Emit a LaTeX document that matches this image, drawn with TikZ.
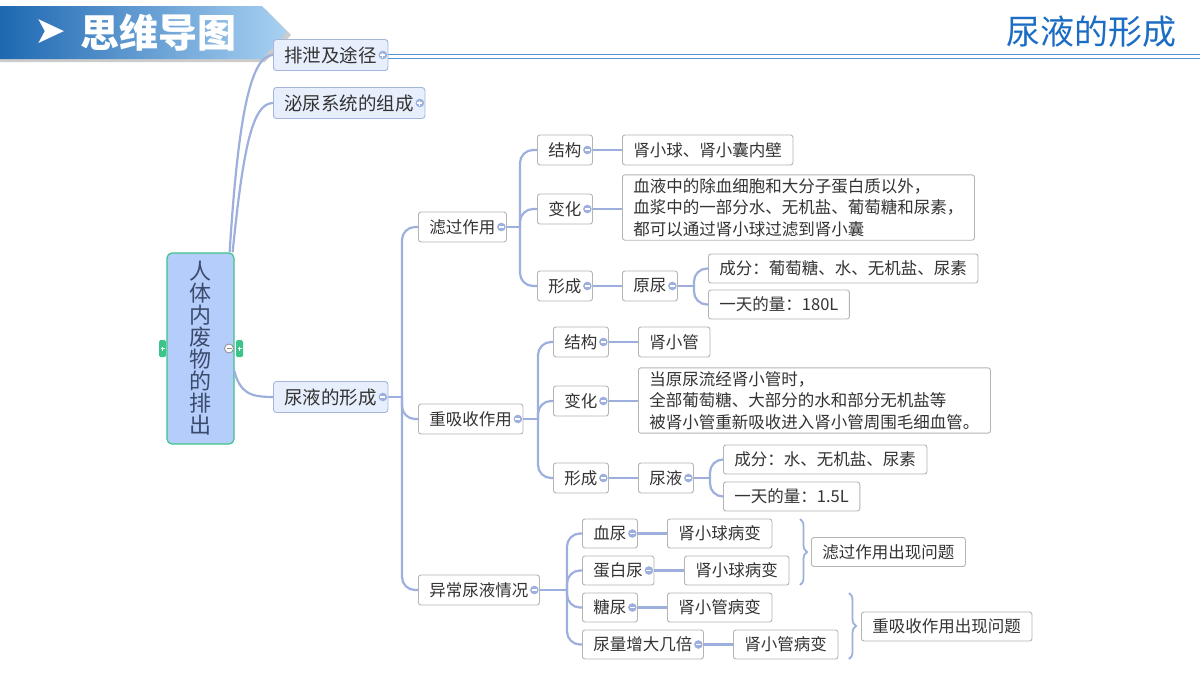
\documentclass[tikz,border=0pt]{standalone}
\usepackage{fontspec}
\setmainfont{Noto Sans CJK SC}
\newfontfamily\symfont{DejaVu Sans}
\usetikzlibrary{decorations.pathreplacing}
\definecolor{linkblue}{HTML}{9DB0DD}
\definecolor{topfill}{HTML}{E7EFFC}
\definecolor{topline}{HTML}{A3B5DA}
\definecolor{boxline}{HTML}{B4B4B4}
\definecolor{inkgray}{HTML}{333333}
\definecolor{rootfill}{HTML}{B5CDFB}
\definecolor{rootline}{HTML}{3CC48A}
\definecolor{roottext}{HTML}{3B4B6B}
\definecolor{bannerdark}{HTML}{1E68B2}
\definecolor{bannerlight}{HTML}{A9D1F2}
\definecolor{titleblue}{HTML}{1A6CC4}
\newcommand{\foldminus}[1]{%
  \fill[linkblue] ([xshift=-5.5pt]#1.east) circle (4.3pt);
  \draw[white,line width=1.1pt] ([xshift=-8pt]#1.east) -- ([xshift=-3pt]#1.east);}
\newcommand{\foldplus}[1]{%
  \foldminus{#1}
  \draw[white,line width=1.1pt] ([xshift=-5.5pt,yshift=-2.5pt]#1.east) -- ([xshift=-5.5pt,yshift=2.5pt]#1.east);}

\begin{document}
\begin{tikzpicture}[x=1pt,y=-1pt,
  topic/.style={draw=topline,fill=topfill,line width=0.9pt,rounded corners=3pt,minimum height=31pt,inner xsep=11pt,inner ysep=3pt,text=inkgray,font=\fontsize{18.5}{20}\selectfont,anchor=west},
  sub/.style={draw=boxline,fill=white,line width=0.9pt,rounded corners=2.5pt,minimum height=30pt,inner xsep=11pt,inner ysep=3.5pt,text=inkgray,font=\fontsize{16.5}{21.5}\selectfont,anchor=west},
  link/.style={draw=linkblue,line width=2.2pt},
  tree/.style={link,rounded corners=13pt},
  bracket/.style={draw=linkblue,line width=1.8pt,decorate,decoration={brace,amplitude=7pt}}]

  \useasboundingbox (0,0) rectangle (1200,675);
  \fill[white] (0,0) rectangle (1200,675);

  % header
  \fill[black!20] (0,9) -- (265,9) -- (291,35) -- (265,62) -- (0,62) -- cycle;
  \shade[left color=bannerdark,right color=bannerlight] (0,6) -- (262,6) -- (287,32) -- (262,59) -- (0,59) -- cycle;
  \node[text=white,font=\symfont\fontsize{38}{38}\selectfont] (mark) at (50,32) {➤};
  \node[text=white,font=\fontsize{39}{39}\selectfont\bfseries] (banner) at (158,33) {思维导图};
  \node[text=titleblue,font=\fontsize{34}{34}\selectfont] (title) at (1091,32) {尿液的形成};

  % root and topics
  \node[draw=rootline,fill=rootfill,rounded corners=5pt,line width=1.2pt,minimum width=67pt,minimum height=191pt,
        align=center,text=roottext,font=\fontsize{22}{22}\selectfont] (root) at (200.5,348.5) {人\\体\\内\\废\\物\\的\\排\\出};
  \node[topic] (paixie) at (273,55) {排泄及途径};
  \node[topic] (miniao) at (273,103) {泌尿系统的组成};
  \node[topic] (niaoye) at (273,397) {尿液的形成};

  \draw[titleblue!75,line width=0.9pt] ([yshift=1pt]paixie.east) -- (1200,54);
  \draw[titleblue!75,line width=0.9pt] ([yshift=-3pt]paixie.east) -- (1200,58);

  \node[sub] (lvguo) at (418,227) {滤过作用};
  \node[sub] (chongxi) at (418,419) {重吸收作用};
  \node[sub] (yichang) at (418,590) {异常尿液情况};

  \node[sub] (lgjg) at (537,150) {结构};
  \node[sub] (lgbh) at (537,209) {变化};
  \node[sub] (lgxc) at (537,286) {形成};
  \node[sub] (lgjgL) at (622,150) {肾小球、肾小囊内壁};
  \node[sub,align=left] (lgbhL) at (622,207.5) {血液中的除血细胞和大分子蛋白质以外，\\血浆中的一部分水、无机盐、葡萄糖和尿素，\\都可以通过肾小球过滤到肾小囊};
  \node[sub] (yuanniao) at (622,286) {原尿};
  \node[sub,minimum height=29pt] (yncf) at (708,268.5) {成分：葡萄糖、水、无机盐、尿素};
  \node[sub,minimum height=29pt] (ynl) at (708,304.5) {一天的量：180L};

  \node[sub] (cxjg) at (553,342) {结构};
  \node[sub] (cxbh) at (553,401) {变化};
  \node[sub] (cxxc) at (553,478) {形成};
  \node[sub] (cxjgL) at (638,342) {肾小管};
  \node[sub,align=left] (cxbhL) at (638,400.5) {当原尿流经肾小管时，\\全部葡萄糖、大部分的水和部分无机盐等\\被肾小管重新吸收进入肾小管周围毛细血管。};
  \node[sub] (niaoyeL) at (638,478) {尿液};
  \node[sub,minimum height=29pt] (nycf) at (723,459.5) {成分：水、无机盐、尿素};
  \node[sub,minimum height=29pt] (nyl) at (723,496.5) {一天的量：1.5L};

  \node[sub,minimum height=29pt] (xueniao) at (582,533.5) {血尿};
  \node[sub,minimum height=29pt] (danbai) at (582,570.5) {蛋白尿};
  \node[sub,minimum height=29pt] (tangniao) at (582,607.5) {糖尿};
  \node[sub,minimum height=29pt] (niaoliang) at (582,644.5) {尿量增大几倍};
  \node[sub,minimum height=29pt] (xnL) at (667,533.5) {肾小球病变};
  \node[sub,minimum height=29pt] (dbL) at (684,570.5) {肾小球病变};
  \node[sub,minimum height=29pt] (tnL) at (667,607.5) {肾小管病变};
  \node[sub,minimum height=29pt] (nlL) at (733,644.5) {肾小管病变};
  \node[sub,minimum height=29pt] (lgwt) at (811,552) {滤过作用出现问题};
  \node[sub,minimum height=29pt] (cxwt) at (861,626.5) {重吸收作用出现问题};

  % connectors
  \draw[link] ([xshift=-5pt]root.north east) .. controls (238,120) and (250,55) .. (paixie.west);
  \draw[link] ([xshift=-2pt]root.north east) .. controls (243,150) and (252,103) .. (miniao.west);
  \draw[link] (234,370) .. controls (240,393) and (250,397) .. (niaoye.west);

  \draw[link] (niaoye.east) -- (402,397);
  \foreach \n in {lvguo,chongxi,yichang} \draw[tree] (402,397) |- (\n.west);

  \draw[link] (lvguo.east) -- (520,227);
  \foreach \n in {lgjg,lgbh,lgxc} \draw[tree] (520,227) |- (\n.west);
  \draw[link] (lgjg.east) -- (lgjgL.west);
  \draw[link] (lgbh.east) -- (lgbhL.west |- lgbh.east);
  \draw[link] (lgxc.east) -- (yuanniao.west);
  \draw[link] (yuanniao.east) -- (694,286);
  \foreach \n in {yncf,ynl} \draw[tree] (694,286) |- (\n.west);

  \draw[link] (chongxi.east) -- (538,419);
  \foreach \n in {cxjg,cxbh,cxxc} \draw[tree] (538,419) |- (\n.west);
  \draw[link] (cxjg.east) -- (cxjgL.west);
  \draw[link] (cxbh.east) -- (cxbhL.west |- cxbh.east);
  \draw[link] (cxxc.east) -- (niaoyeL.west);
  \draw[link] (niaoyeL.east) -- (710,478);
  \foreach \n in {nycf,nyl} \draw[tree] (710,478) |- (\n.west);

  \draw[link] (yichang.east) -- (567,590);
  \foreach \n in {xueniao,danbai,tangniao,niaoliang} \draw[tree] (567,590) |- (\n.west);
  \draw[link] (xueniao.east) -- (xnL.west);
  \draw[link] (danbai.east) -- (dbL.west);
  \draw[link] (tangniao.east) -- (tnL.west);
  \draw[link] (niaoliang.east) -- (nlL.west);

  \draw[bracket] (800,519) -- (800,585);
  \draw[bracket] (849,593) -- (849,659);

  % fold marks
  \foldplus{paixie}
  \foldplus{miniao}
  \foreach \n in {niaoye,lvguo,chongxi,yichang,lgjg,lgbh,lgxc,yuanniao,cxjg,cxbh,cxxc,niaoyeL,xueniao,danbai,tangniao,niaoliang}
    {\foldminus{\n}}

  \fill[rootline,rounded corners=1.5pt] (159,340) rectangle (166,357);
  \fill[rootline,rounded corners=1.5pt] (236,340) rectangle (243,357);
  \draw[white,line width=0.8pt] (160.5,348.5) -- (164.5,348.5) (162.5,346.5) -- (162.5,350.5);
  \draw[white,line width=0.8pt] (237.5,348.5) -- (241.5,348.5) (239.5,346.5) -- (239.5,350.5);
  \draw[black!45,fill=white,line width=0.8pt] (229,348.5) circle (4.5pt);
  \draw[black!45,line width=0.9pt] (226.5,348.5) -- (231.5,348.5);
\end{tikzpicture}
\end{document}
